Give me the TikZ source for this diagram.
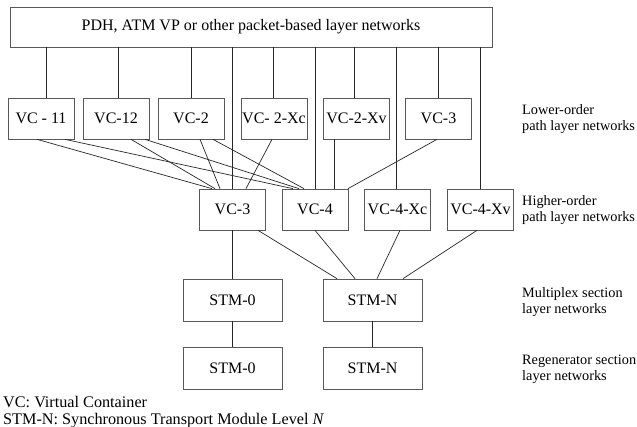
\documentclass[tikz,border=0pt]{standalone}
\usepackage{fontspec}
\setmainfont{Liberation Serif}
\usepackage{tikz}

\begin{document}
\begin{tikzpicture}[x=1pt,y=-1pt,
    box/.style={draw=black!65, line width=0.7pt, minimum width=66pt, minimum height=41pt,
      inner sep=0pt, font=\fontsize{16}{18}\selectfont},
    stmbox/.style={box, minimum width=99pt, minimum height=42pt},
    lnk/.style={draw=black!85, line width=0.7pt},
    lbl/.style={anchor=west, align=left, inner sep=0pt, font=\fontsize{14.3}{16}\selectfont}]
  \useasboundingbox (0,0) rectangle (637,427);

  \node[box, minimum width=482pt, minimum height=40pt] (pdh) at (251,27)
    {PDH, ATM VP or other packet-based layer networks};

  % lower-order path layer
  \node[box] (lvc11)  at (41,118.5)    {VC - 11};
  \node[box] (lvc12)  at (116,118.5)   {VC-12};
  \node[box] (lvc2)   at (191,118.5)   {VC-2};
  \node[box] (lvc2xc) at (274,118.5)   {VC- 2-Xc};
  \node[box] (lvc2xv) at (356.5,118.5) {VC-2-Xv};
  \node[box] (lvc3)   at (438.5,118.5) {VC-3};

  % higher-order path layer
  \node[box] (hvc3)   at (232.5,209.5) {VC-3};
  \node[box] (hvc4)   at (315,209.5)   {VC-4};
  \node[box] (hvc4xc) at (397.5,209.5) {VC-4-Xc};
  \node[box] (hvc4xv) at (480.5,209.5) {VC-4-Xv};

  % section layers
  \node[stmbox] (ms0) at (232.5,300) {STM-0};
  \node[stmbox] (msn) at (372.5,300) {STM-N};
  \node[stmbox] (rs0) at (232.5,368) {STM-0};
  \node[stmbox] (rsn) at (372.5,368) {STM-N};

  \foreach \n/\dx in {lvc11/5, lvc12/2, lvc2/0, lvc2xc/-1, lvc2xv/-2, lvc3/0,
                      hvc3/0, hvc4/0, hvc4xc/-1, hvc4xv/0}
    \draw[lnk] ([xshift=\dx pt]\n.north) -- ([xshift=\dx pt]\n.north |- pdh.south);

  \foreach \a/\da/\b/\db in {lvc11/-4/hvc3/-20.5, lvc11/24/hvc4/-22,
                             lvc12/15/hvc3/-17.5, lvc12/29/hvc4/-16,
                             lvc2/9/hvc3/-12.5, lvc2/22/hvc4/-11,
                             lvc2xc/-2/hvc3/13.5, lvc2xv/-22.5/hvc4/19,
                             lvc3/-1.5/hvc4/33,
                             hvc3/0/ms0/0, hvc3/25.5/msn/-35.5, hvc4/0/msn/-17.5,
                             hvc4xc/2.5/msn/4.5, hvc4xv/-3.5/msn/30.5,
                             ms0/0/rs0/0, msn/0/rsn/0}
    \draw[lnk] ([xshift=\da pt]\a.south) -- ([xshift=\db pt]\b.north);

  \node[lbl] (lolbl) at (522,119) {Lower-order\\path layer networks};
  \node[lbl] (holbl) at (522,210) {Higher-order\\path layer networks};
  \node[lbl] (mslbl) at (522,302) {Multiplex section\\layer networks};
  \node[lbl] (rslbl) at (522,369) {Regenerator section\\layer networks};

  \node[lbl, font=\fontsize{16.2}{17}\selectfont] (note) at (3,412)
    {VC: Virtual Container\\STM-N: Synchronous Transport Module Level \textit{N}};
\end{tikzpicture}
\end{document}
